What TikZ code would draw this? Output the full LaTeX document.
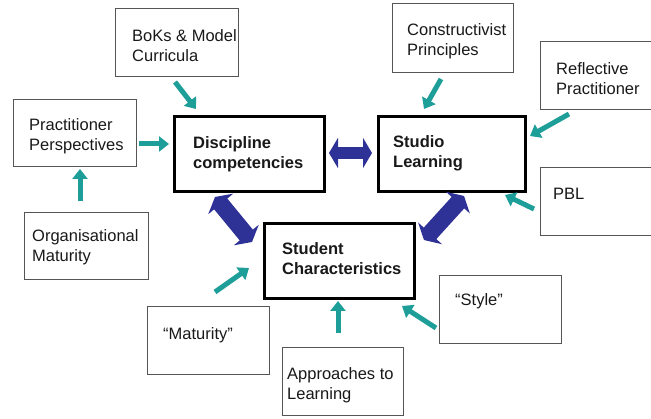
\documentclass[tikz,border=0pt]{standalone}
\usepackage{fontspec}
\setmainfont{Liberation Sans}
\usetikzlibrary{arrows.meta}
\definecolor{teal1}{RGB}{30,158,152}
\definecolor{navy1}{RGB}{46,49,150}
\definecolor{boxgray}{RGB}{85,85,85}
\newcommand\tl[2]{\vtop{\hbox{#1}\hbox{#2}}}
\begin{document}
\begin{tikzpicture}[x=1pt,y=-1pt,
  thinbox/.style={draw=boxgray,line width=1.4pt,fill=white,inner sep=0pt,anchor=north west},
  mainbox/.style={draw=black,line width=2.6pt,fill=white,inner sep=0pt,anchor=north west},
  txt/.style={font=\fontsize{16.5}{19.5}\selectfont,inner sep=0pt,anchor=base west,text=black!90},
  btxt/.style={txt,font=\fontsize{16.5}{19.5}\selectfont\bfseries},
  tarrow/.style={draw=teal1,line width=5pt,-{Triangle[length=10pt,width=15pt]}},
  barrow/.style={draw=navy1,line width=12pt,{Triangle[length=9pt,width=30pt]}-{Triangle[length=9pt,width=30pt]}},
  bdiag/.style={draw=navy1,line width=17pt,{Triangle[length=9pt,width=32pt]}-{Triangle[length=9pt,width=32pt]}}
]
\useasboundingbox (0,0) rectangle (651,419);
\clip (0,0) rectangle (651,419);
\fill[white] (0,0) rectangle (651,419);

% boxes
\node[thinbox,minimum width=123pt,minimum height=68pt] (bok) at (115,8) {};
\node[thinbox,minimum width=123pt,minimum height=67pt] (pp) at (13,99) {};
\node[mainbox,minimum width=150pt,minimum height=75pt] (dc) at (173,115) {};
\node[thinbox,minimum width=121pt,minimum height=69pt] (cp) at (392,3) {};
\node[thinbox,minimum width=130pt,minimum height=68pt] (rp) at (540,41) {};
\node[mainbox,minimum width=147pt,minimum height=75pt] (sl) at (377,115) {};
\node[thinbox,minimum width=130pt,minimum height=68pt] (pbl) at (540,167) {};
\node[thinbox,minimum width=124pt,minimum height=67pt] (om) at (24,212) {};
\node[mainbox,minimum width=150pt,minimum height=75pt] (sc) at (263,222) {};
\node[thinbox,minimum width=122pt,minimum height=68pt] (mat) at (147,306) {};
\node[thinbox,minimum width=121pt,minimum height=68pt] (al) at (282,347) {};
\node[thinbox,minimum width=122pt,minimum height=68pt] (sty) at (439,275) {};

% texts
\node[txt] (bokT) at (132,42) {\tl{BoKs \& Model}{Curricula}};
\node[txt] (ppT) at (29,131) {\tl{Practitioner}{Perspectives}};
\node[btxt] (dcT) at (193,149) {\tl{Discipline}{competencies}};
\node[txt] (cpT) at (407,36) {\tl{Constructivist}{Principles}};
\node[txt] (rpT) at (556,75) {\tl{Reflective}{Practitioner}};
\node[btxt] (slT) at (393,148) {\tl{Studio}{Learning}};
\node[txt] (pblT) at (553,200) {PBL};
\node[txt] (omT) at (32,242) {\tl{Organisational}{Maturity}};
\node[btxt] (scT) at (282,255) {\tl{Student}{Characteristics}};
\node[txt] (matT) at (163,340) {“Maturity”};
\node[txt] (alT) at (287,380) {\tl{Approaches to}{Learning}};
\node[txt] (styT) at (455,306) {“Style”};

% teal arrow end points
\coordinate (a1s) at (175,82);  \coordinate (a1e) at (196,109);
\coordinate (a2s) at (139,144); \coordinate (a2e) at (169,144);
\coordinate (a3s) at (80,201);  \coordinate (a3e) at (80,169);
\coordinate (a4s) at (441,79);  \coordinate (a4e) at (424,109);
\coordinate (a5s) at (569,114); \coordinate (a5e) at (530,136);
\coordinate (a6s) at (534,209); \coordinate (a6e) at (505,195);
\coordinate (a7s) at (215,292); \coordinate (a7e) at (249,268);
\coordinate (a8s) at (338,333); \coordinate (a8e) at (338,301);
\coordinate (a9s) at (436,328); \coordinate (a9e) at (402,306);

\draw[tarrow] (a1s) -- (a1e);
\draw[tarrow] (a2s) -- (a2e);
\draw[tarrow] (a3s) -- (a3e);
\draw[tarrow] (a4s) -- (a4e);
\draw[tarrow] (a5s) -- (a5e);
\draw[tarrow] (a6s) -- (a6e);
\draw[tarrow] (a7s) -- (a7e);
\draw[tarrow] (a8s) -- (a8e);
\draw[tarrow] (a9s) -- (a9e);

% blue double arrows
\coordinate (b1s) at (329,153); \coordinate (b1e) at (372,153);
\coordinate (b2s) at (215,197); \coordinate (b2e) at (252,242);
\coordinate (b3s) at (424,240); \coordinate (b3e) at (464,196);
\draw[barrow] (b1s) -- (b1e);
\draw[bdiag] (b2s) -- (b2e);
\draw[bdiag] (b3s) -- (b3e);
\end{tikzpicture}
\end{document}
